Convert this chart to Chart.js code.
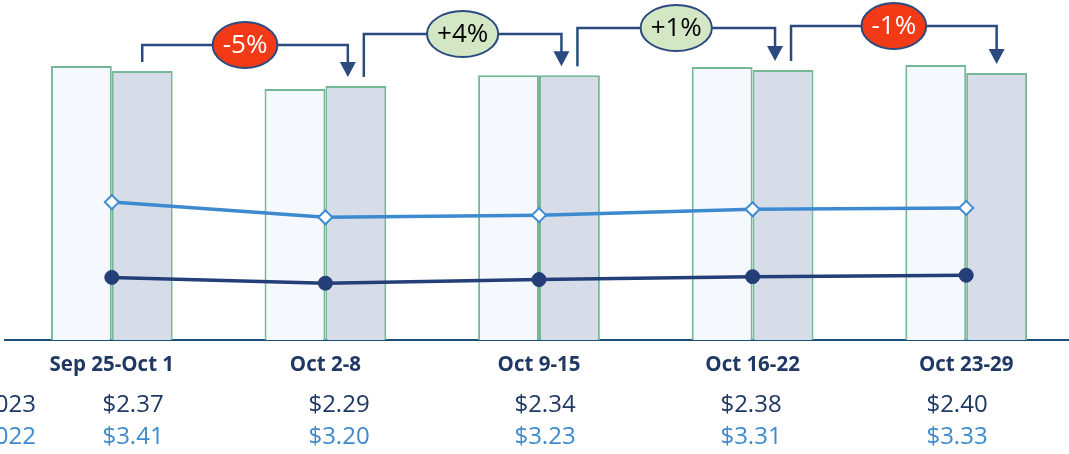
<!DOCTYPE html>
<html>
<head>
<meta charset="utf-8">
<script src="https://cdn.jsdelivr.net/npm/chart.js@4.4.0/dist/chart.umd.min.js"></script>
<style>
    html, body { margin: 0; padding: 0; background: #fff; overflow: hidden; }
    #wrap { width: 1076px; height: 454px; }
</style>
</head>
<body>
<div id="wrap"><canvas id="weekChart"></canvas></div>
<script>
// Weekly values
const weeks = ['Sep 25-Oct 1', 'Oct 2-8', 'Oct 9-15', 'Oct 16-22', 'Oct 23-29'];
const barsLeft = [80.6, 73.8, 77.9, 80.3, 80.9];
const barsRight = [79.1, 74.7, 77.9, 79.4, 78.5];
const price2023 = [2.37, 2.29, 2.34, 2.38, 2.40];
const price2022 = [3.41, 3.20, 3.23, 3.31, 3.33];
const changeLabels = ['-5%', '+4%', '+1%', '-1%'];
const rowLabels = ['2023', '2022'];

const NAVY = '#1f3864';
const LIGHT_BLUE = '#3d8ad0';

Chart.defaults.font.family = '"Open Sans", sans-serif';

// Bracket arrows with the week-over-week change bubbles
const bracketPlugin = {
    id: 'changeBrackets',
    afterDatasetsDraw(chart, args, opts) {
        const ctx = chart.ctx;
        const bars = chart.getDatasetMeta(1).data;
        ctx.save();
        ctx.strokeStyle = opts.color;
        ctx.fillStyle = opts.color;
        ctx.lineWidth = 2.5;
        for (let i = 0; i < bars.length - 1; i++) {
            const a = bars[i], b = bars[i + 1];
            const x1 = a.x + (i > 0 ? opts.shift : 0);
            const x2 = b.x - (i + 1 < bars.length - 1 ? opts.shift : 0);
            const y1 = a.y - opts.gap;
            const y2 = b.y - opts.gap;
            const ly = opts.levels[i];

            ctx.beginPath();
            ctx.moveTo(x1, y1);
            ctx.lineTo(x1, ly);
            ctx.lineTo(x2, ly);
            ctx.lineTo(x2, y2 - 14);
            ctx.stroke();

            ctx.beginPath();
            ctx.moveTo(x2 - 8, y2 - 15);
            ctx.lineTo(x2 + 8, y2 - 15);
            ctx.lineTo(x2, y2);
            ctx.closePath();
            ctx.fill();

            // bubble
            const text = changeLabels[i];
            const neg = text.startsWith('-');
            ctx.font = '26px "Open Sans"';
            const tw = ctx.measureText(text).width;
            const cx = (x1 + x2) / 2;
            ctx.beginPath();
            ctx.ellipse(cx, ly, tw / 2 + 10, 23, 0, 0, Math.PI * 2);
            ctx.fillStyle = neg ? '#f33a17' : '#d3e7c5';
            ctx.fill();
            ctx.lineWidth = 2;
            ctx.stroke();
            ctx.lineWidth = 2.5;
            ctx.fillStyle = neg ? '#ffffff' : '#000000';
            ctx.textAlign = 'center';
            ctx.textBaseline = 'middle';
            ctx.fillText(text, cx, ly + 1);
            ctx.fillStyle = opts.color;
        }
        ctx.restore();
    }
};

// Price rows under the axis
const tablePlugin = {
    id: 'priceTable',
    afterDraw(chart, args, opts) {
        const ctx = chart.ctx;
        const rows = [
            { label: rowLabels[0], values: price2023, color: NAVY, y: opts.rowY[0] },
            { label: rowLabels[1], values: price2022, color: LIGHT_BLUE, y: opts.rowY[1] }
        ];
        ctx.save();
        ctx.font = '24px "Open Sans"';
        ctx.textBaseline = 'middle';
        rows.forEach(row => {
            ctx.fillStyle = row.color;
            ctx.textAlign = 'right';
            ctx.fillText(row.label, opts.labelRight, row.y);
            ctx.textAlign = 'center';
            row.values.forEach((v, i) => {
                ctx.fillText('$' + v.toFixed(2), opts.x0 + i * opts.step, row.y);
            });
        });
        ctx.restore();
    }
};

const ctx = document.getElementById('weekChart').getContext('2d');
new Chart(ctx, {
    type: 'bar',
    data: {
        labels: weeks,
        datasets: [
            {
                label: 'Left',
                data: barsLeft,
                backgroundColor: '#f5f8fc',
                borderColor: '#74b895',
                borderWidth: 2,
                categoryPercentage: 0.57,
                barPercentage: 1,
                yAxisID: 'y',
                order: 2
            },
            {
                label: 'Right',
                data: barsRight,
                backgroundColor: '#d6dde9',
                borderColor: '#74b895',
                borderWidth: 2,
                categoryPercentage: 0.57,
                barPercentage: 1,
                yAxisID: 'y',
                order: 2
            },
            {
                type: 'line',
                label: '2022',
                data: price2022,
                borderColor: LIGHT_BLUE,
                borderWidth: 3.5,
                pointStyle: 'rectRot',
                pointRadius: 7,
                pointBackgroundColor: '#ffffff',
                pointBorderColor: LIGHT_BLUE,
                pointBorderWidth: 2,
                tension: 0,
                yAxisID: 'y1',
                order: 0
            },
            {
                type: 'line',
                label: '2023',
                data: price2023,
                borderColor: '#243f78',
                borderWidth: 3.5,
                pointStyle: 'circle',
                pointRadius: 7,
                pointBackgroundColor: '#243f78',
                pointBorderColor: '#243f78',
                pointBorderWidth: 1,
                tension: 0,
                yAxisID: 'y1',
                order: 1
            }
        ]
    },
    options: {
        responsive: true,
        maintainAspectRatio: false,
        animation: false,
        layout: { autoPadding: false, padding: { left: 5, right: 3, top: 0, bottom: 0 } },
        plugins: {
            legend: { display: false },
            tooltip: { enabled: false },
            changeBrackets: { color: '#2a4a80', gap: 9, shift: 8, levels: [45, 34, 28, 26] },
            priceTable: { x0: 133, step: 206, labelRight: 36, rowY: [405, 437] }
        },
        scales: {
            x: {
                grid: { display: false },
                border: { display: true, color: '#1f4e79', width: 2 },
                ticks: {
                    color: NAVY,
                    font: { size: 20.5, weight: 'bold' },
                    padding: 5,
                    maxRotation: 0,
                    autoSkip: false
                },
                afterFit(scale) { scale.height = 114; }
            },
            y: { display: false, min: 0, max: 100 },
            y1: { display: false, min: 1.506, max: 6.20 }
        }
    },
    plugins: [bracketPlugin, tablePlugin]
});
</script>
</body>
</html>
